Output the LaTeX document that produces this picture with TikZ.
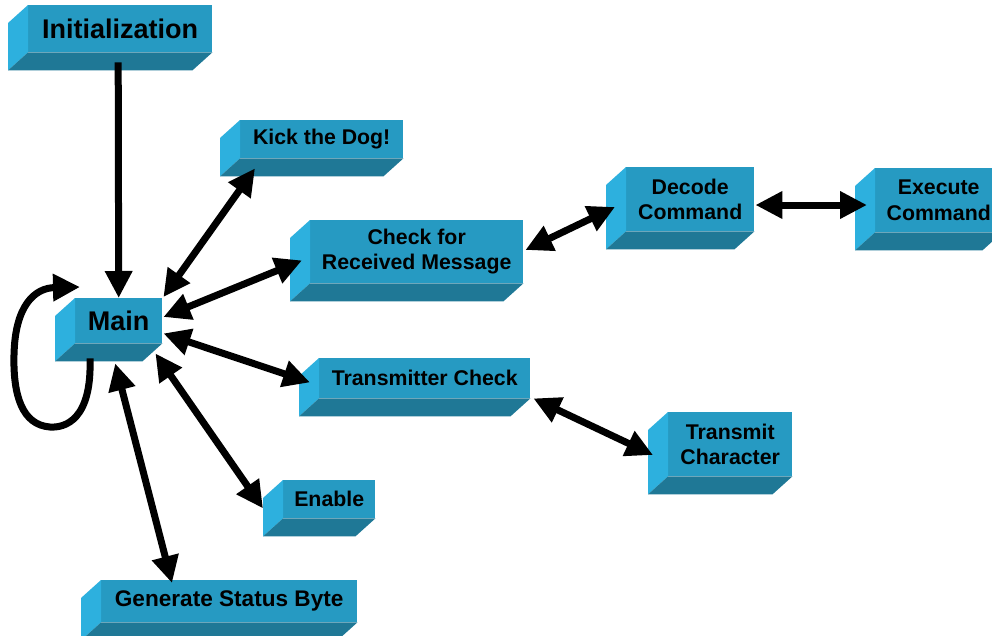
\documentclass[tikz,border=0pt]{standalone}
\usepackage{fontspec}
\setmainfont{Liberation Sans}
\usetikzlibrary{arrows.meta,calc}

\definecolor{facefront}{RGB}{38,154,194}
\definecolor{faceleft}{RGB}{45,176,222}
\definecolor{facebottom}{RGB}{31,120,150}

\tikzset{
  block/.style={rectangle, fill=facefront, inner sep=0pt, anchor=north west,
    align=center, text=black, font=\bfseries\fontsize{21.3}{25.5}\selectfont},
  bigblock/.style={block, font=\bfseries\fontsize{27}{30}\selectfont},
  tip/.tip={Triangle[length=27pt,width=26pt]},
  link/.style={line width=7pt, draw=black, arrows={-tip}},
  duplex/.style={link, arrows={tip-tip}},
}

\begin{document}
\begin{tikzpicture}[x=1pt,y=-1pt]
\useasboundingbox (0,0) rectangle (992,635);

% front faces of the blocks
\node[bigblock, minimum width=184, minimum height=47] (init) at (28,5) {Initialization};
\node[bigblock, minimum width=87,  minimum height=45] (main) at (75,298) {Main};
\node[block, minimum width=163, minimum height=38] (kick) at (240,120) {Kick the Dog!};
\node[block, minimum width=213, minimum height=63] (check) at (310,220) {Check for\\Received Message};
\node[block, minimum width=128, minimum height=64] (decode) at (626,167) {Decode\\Command};
\node[block, minimum width=127, minimum height=64] (execute) at (875,168) {Execute\\Command};
\node[block, minimum width=211, minimum height=40] (txcheck) at (319,358) {Transmitter Check};
\node[block, minimum width=124, minimum height=64] (txchar) at (668,412) {Transmit\\Character};
\node[block, minimum width=92,  minimum height=38] (enable) at (283,480) {Enable};
\node[block, minimum width=256, minimum height=42,
      font=\bfseries\fontsize{22.6}{26}\selectfont] (status) at (101,580) {Generate Status Byte};

% side and bottom faces giving the blocks depth
\foreach \n in {init,main,kick,check,decode,execute,txcheck,txchar,enable,status}{
  \fill[faceleft] (\n.north west) -- ([shift={(-20,18)}]\n.north west)
    -- ([shift={(-20,18)}]\n.south west) -- (\n.south west) -- cycle;
  \fill[facebottom] (\n.south west) -- (\n.south east)
    -- ([shift={(-20,18)}]\n.south east) -- ([shift={(-20,18)}]\n.south west) -- cycle;
}

% connectors
\draw[link] ([shift={(-2,10)}]init.south) -- (main.north);
\draw[duplex] ([shift={(1,-1)}]main.north east) -- ([shift={(15,10)}]kick.south west);
\draw[duplex] ([shift={(1,19)}]main.north east) -- ([shift={(-8,-23)}]check.south west);
\draw[duplex] ([shift={(1,-10)}]main.south east) -- ([shift={(-9,-16)}]txcheck.south west);
\draw[duplex] ([shift={(-7,10)}]main.south east) -- ([shift={(-20,-10)}]enable.south west);
\draw[duplex] ([shift={(-3.5,20)}]main.south) -- ([shift={(71,3)}]status.north west);
\draw[duplex] ([shift={(2,30)}]check.north east) -- ([shift={(-11,40)}]decode.north west);
\draw[duplex] ([shift={(1,38)}]decode.north east) -- ([shift={(-8,37)}]execute.north west);
\draw[duplex] ([shift={(3,0)}]txcheck.south east) -- ([shift={(-15,43)}]txchar.north west);

% self loop on Main
\coordinate (loopend) at ([shift={(5,-11)}]main.north west);
\draw[link] ([shift={(15,15)}]main.south west)
  .. controls (92,420) and (65,428) .. (50,427)
  .. controls (22,425) and (13,395) .. (14,355)
  .. controls (15,305) and (35,288) .. (loopend);
\end{tikzpicture}
\end{document}
